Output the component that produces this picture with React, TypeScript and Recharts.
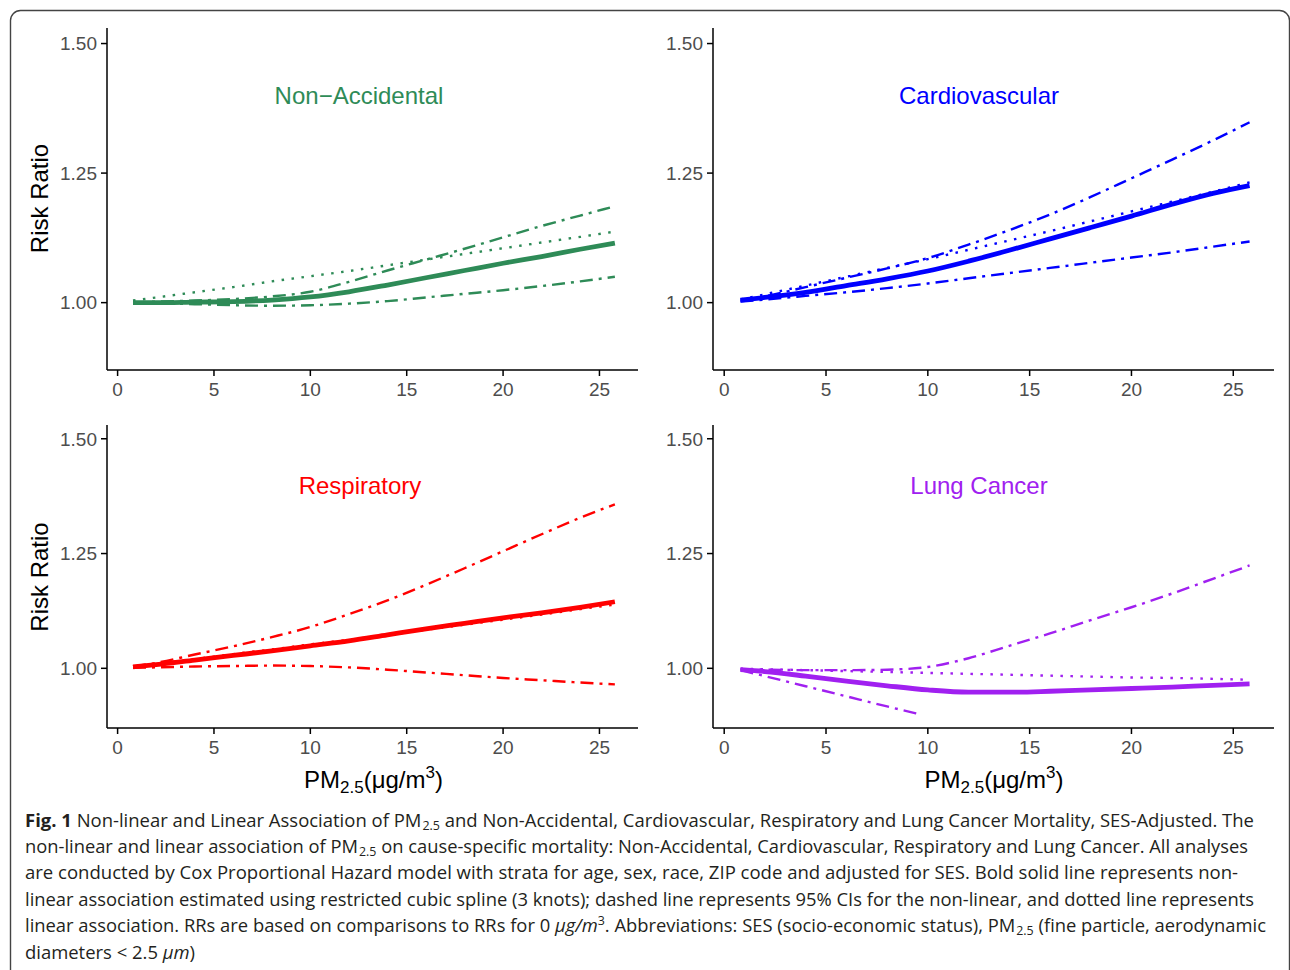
import React from 'react';
import { LineChart, Line, XAxis, YAxis } from 'recharts';

// PM2.5 concentration (x values, µg/m3)
const PM = [0.8, 2, 4, 6, 8, 10, 12, 14, 16, 18, 20, 22, 24, 25.8];
const X_TICKS = [0, 5, 10, 15, 20, 25];
const Y_TICKS = [1.0, 1.25, 1.5];

// Non-Accidental
const NA_SPLINE = [1.000, 1.000, 1.001, 1.002, 1.005, 1.011, 1.021, 1.034, 1.048, 1.062, 1.076, 1.089, 1.103, 1.115];
const NA_UPPER = [1.000, 1.002, 1.004, 1.007, 1.012, 1.021, 1.040, 1.062, 1.083, 1.104, 1.126, 1.148, 1.168, 1.186];
const NA_LOWER = [1.000, 0.999, 0.997, 0.995, 0.994, 0.995, 0.998, 1.003, 1.010, 1.017, 1.024, 1.032, 1.041, 1.050];
const NA_LINEAR = [1.004, 1.010, 1.020, 1.030, 1.041, 1.051, 1.061, 1.072, 1.083, 1.094, 1.105, 1.116, 1.127, 1.137];

// Cardiovascular
const CV_SPLINE = [1.005, 1.010, 1.020, 1.033, 1.046, 1.061, 1.080, 1.101, 1.123, 1.145, 1.167, 1.190, 1.211, 1.226];
const CV_UPPER = [1.004, 1.012, 1.030, 1.048, 1.066, 1.086, 1.112, 1.140, 1.170, 1.204, 1.240, 1.276, 1.313, 1.348];
const CV_LOWER = [1.002, 1.006, 1.013, 1.020, 1.028, 1.037, 1.047, 1.057, 1.067, 1.077, 1.087, 1.097, 1.108, 1.118];
const CV_LINEAR = [1.006, 1.016, 1.033, 1.050, 1.067, 1.084, 1.102, 1.120, 1.138, 1.157, 1.176, 1.195, 1.214, 1.232];

// Respiratory
const RE_SPLINE = [1.003, 1.008, 1.018, 1.028, 1.038, 1.049, 1.060, 1.073, 1.086, 1.098, 1.110, 1.121, 1.133, 1.145];
const RE_UPPER = [1.004, 1.012, 1.030, 1.048, 1.068, 1.090, 1.118, 1.148, 1.182, 1.218, 1.255, 1.292, 1.328, 1.357];
const RE_LOWER = [1.001, 1.002, 1.004, 1.005, 1.006, 1.005, 1.002, 0.997, 0.991, 0.985, 0.979, 0.974, 0.969, 0.965];
const RE_LINEAR = [1.004, 1.010, 1.020, 1.031, 1.041, 1.052, 1.062, 1.073, 1.084, 1.095, 1.106, 1.117, 1.129, 1.139];

// Lung Cancer
const LC_SPLINE = [0.997, 0.993, 0.983, 0.972, 0.962, 0.953, 0.948, 0.948, 0.950, 0.953, 0.956, 0.959, 0.963, 0.966];
const LC_UPPER = [0.998, 0.997, 0.996, 0.996, 0.997, 1.003, 1.022, 1.049, 1.076, 1.105, 1.133, 1.163, 1.195, 1.224];
const LC_LINEAR = [0.999, 0.998, 0.996, 0.994, 0.992, 0.990, 0.988, 0.986, 0.984, 0.982, 0.980, 0.979, 0.977, 0.975];
const LC_LOWER_PM = [0.8, 2, 4, 6, 8, 9.5];
const LC_LOWER = [0.996, 0.983, 0.961, 0.939, 0.917, 0.901];

const buildRows = (spline: number[], lower: number[], upper: number[], linear: number[]) =>
  PM.map((x, i) => ({ x, spline: spline[i], lower: lower[i], upper: upper[i], linear: linear[i] }));

const AXIS_FONT = 'Liberation Sans, Arial, Helvetica, sans-serif';
const DASHDOT = '13 6 3 6';
const DOTTED = '2.5 7.5';

type PanelProps = {
  left: number;
  top: number;
  width: number;
  height: number;
  margin: { top: number; right: number; left: number; bottom: number };
  rows: any[];
  color: string;
  lowerData?: { x: number; v: number }[];
};

function Panel({ left, top, width, height, margin, rows, color, lowerData }: PanelProps) {
  return (
    <div style={{ position: 'absolute', left, top, width, height }}>
      <LineChart width={width} height={height} data={rows} margin={margin}>
        <XAxis
          type="number"
          dataKey="x"
          domain={[-0.55, 27]}
          ticks={X_TICKS}
          interval={0}
          allowDataOverflow
          height={40}
          tickSize={6}
          tickMargin={7}
          axisLine={{ stroke: '#000', strokeWidth: 1.5 }}
          tickLine={{ stroke: '#000', strokeWidth: 1.5 }}
          tick={{ fill: '#4D4D4D', fontSize: 19, fontFamily: AXIS_FONT }}
        />
        <YAxis
          type="number"
          domain={[0.87, 1.53]}
          ticks={Y_TICKS}
          interval={0}
          allowDataOverflow
          width={60}
          tickSize={6}
          tickMargin={4}
          tickFormatter={(v: number) => v.toFixed(2)}
          axisLine={{ stroke: '#000', strokeWidth: 1.5 }}
          tickLine={{ stroke: '#000', strokeWidth: 1.5 }}
          tick={{ fill: '#4D4D4D', fontSize: 19, fontFamily: AXIS_FONT }}
        />
        <Line type="monotone" dataKey="linear" stroke={color} strokeWidth={2.4} strokeDasharray={DOTTED} dot={false} isAnimationActive={false} />
        <Line type="monotone" dataKey="upper" stroke={color} strokeWidth={2.4} strokeDasharray={DASHDOT} dot={false} isAnimationActive={false} />
        {lowerData ? (
          <Line type="monotone" data={lowerData} dataKey="v" stroke={color} strokeWidth={2.4} strokeDasharray={DASHDOT} dot={false} isAnimationActive={false} />
        ) : (
          <Line type="monotone" dataKey="lower" stroke={color} strokeWidth={2.4} strokeDasharray={DASHDOT} dot={false} isAnimationActive={false} />
        )}
        <Line type="monotone" dataKey="spline" stroke={color} strokeWidth={4.8} dot={false} isAnimationActive={false} />
      </LineChart>
    </div>
  );
}

const CAP_FONT = '"Open Sans", "Noto Sans", sans-serif';
const CAP_SIZE = 18.5;
const SUB_SIZE = 12.5;

export default function App() {
  const naRows = buildRows(NA_SPLINE, NA_LOWER, NA_UPPER, NA_LINEAR);
  const cvRows = buildRows(CV_SPLINE, CV_LOWER, CV_UPPER, CV_LINEAR);
  const reRows = buildRows(RE_SPLINE, RE_LOWER, RE_UPPER, RE_LINEAR);
  const lcRows = buildRows(LC_SPLINE, LC_SPLINE, LC_UPPER, LC_LINEAR);
  const lcLower = LC_LOWER_PM.map((x, i) => ({ x, v: LC_LOWER[i] }));

  const titleStyle = { fontFamily: AXIS_FONT, fontSize: 24 } as const;

  return (
    <div style={{ position: 'absolute', left: 0, top: 0, width: 1290, height: 970, background: '#fff', overflow: 'hidden' }}>
      <Panel left={0} top={0} width={650} height={420} margin={{ top: 28, right: 12, left: 47, bottom: 10 }} rows={naRows} color="#2E8B57" />
      <Panel left={640} top={0} width={650} height={420} margin={{ top: 28, right: 16, left: 13, bottom: 10 }} rows={cvRows} color="#0000FF" />
      <Panel left={0} top={400} width={650} height={380} margin={{ top: 25, right: 12, left: 47, bottom: 12 }} rows={reRows} color="#FF0000" />
      <Panel left={640} top={400} width={650} height={380} margin={{ top: 25, right: 16, left: 13, bottom: 12 }} rows={lcRows} color="#A020F0" lowerData={lcLower} />

      <svg width={1290} height={970} style={{ position: 'absolute', left: 0, top: 0, pointerEvents: 'none' }}>
        <rect x={10.5} y={10.5} width={1279} height={1100} rx={10} fill="none" stroke="#444" strokeWidth={1.4} />

        {/* panel titles */}
        <text x={359} y={104} textAnchor="middle" fill="#2E8B57" {...titleStyle}>Non−Accidental</text>
        <text x={979} y={104} textAnchor="middle" fill="#0000FF" {...titleStyle}>Cardiovascular</text>
        <text x={360} y={494} textAnchor="middle" fill="#FF0000" {...titleStyle}>Respiratory</text>
        <text x={979} y={494} textAnchor="middle" fill="#A020F0" {...titleStyle}>Lung Cancer</text>

        {/* y axis titles */}
        <text transform="translate(48,198.5) rotate(-90)" textAnchor="middle" fill="#000" {...titleStyle}>Risk Ratio</text>
        <text transform="translate(48,577) rotate(-90)" textAnchor="middle" fill="#000" {...titleStyle}>Risk Ratio</text>

        {/* x axis titles */}
        {[373.5, 994].map((cx) => (
          <text key={cx} x={cx} y={788} textAnchor="middle" fill="#000" {...titleStyle}>
            PM<tspan fontSize={17} dy={5}>2.5</tspan>
            <tspan dy={-5}>(μg/m</tspan>
            <tspan fontSize={17} dy={-10}>3</tspan>
            <tspan dy={10}>)</tspan>
          </text>
        ))}

        {/* caption */}
        <g fontFamily={CAP_FONT} fontSize={CAP_SIZE} fill="#231F20">
          <text x={25} y={826.5} textLength={1229} lengthAdjust="spacingAndGlyphs">
            <tspan fontWeight="bold">{'Fig. 1'}</tspan>
            <tspan>{' Non-linear and Linear Association of PM'}</tspan>
            <tspan fontSize={SUB_SIZE} dx={1} dy={3}>{'2.5'}</tspan>
            <tspan dy={-3}>{' and Non-Accidental, Cardiovascular, Respiratory and Lung Cancer Mortality, SES-Adjusted. The'}</tspan>
          </text>
          <text x={25} y={853} textLength={1223} lengthAdjust="spacingAndGlyphs">
            <tspan>{'non-linear and linear association of PM'}</tspan>
            <tspan fontSize={SUB_SIZE} dx={1} dy={3}>{'2.5'}</tspan>
            <tspan dy={-3}>{' on cause-specific mortality: Non-Accidental, Cardiovascular, Respiratory and Lung Cancer. All analyses'}</tspan>
          </text>
          <text x={25} y={879} textLength={1213} lengthAdjust="spacingAndGlyphs">
            {'are conducted by Cox Proportional Hazard model with strata for age, sex, race, ZIP code and adjusted for SES. Bold solid line represents non-'}
          </text>
          <text x={25} y={905.5} textLength={1229} lengthAdjust="spacingAndGlyphs">
            {'linear association estimated using restricted cubic spline (3 knots); dashed line represents 95% CIs for the non-linear, and dotted line represents'}
          </text>
          <text x={25} y={932} textLength={1241} lengthAdjust="spacingAndGlyphs">
            <tspan>{'linear association. RRs are based on comparisons to RRs for 0 '}</tspan>
            <tspan fontStyle="italic">{'μg/m'}</tspan>
            <tspan fontSize={SUB_SIZE} dy={-7}>{'3'}</tspan>
            <tspan dy={7}>{'. Abbreviations: SES (socio-economic status), PM'}</tspan>
            <tspan fontSize={SUB_SIZE} dx={1} dy={3}>{'2.5'}</tspan>
            <tspan dy={-3}>{' (fine particle, aerodynamic'}</tspan>
          </text>
          <text x={25} y={958.5} textLength={170} lengthAdjust="spacingAndGlyphs">
            <tspan>{'diameters < 2.5 '}</tspan>
            <tspan fontStyle="italic">{'μm'}</tspan>
            <tspan>{')'}</tspan>
          </text>
        </g>
      </svg>
    </div>
  );
}
